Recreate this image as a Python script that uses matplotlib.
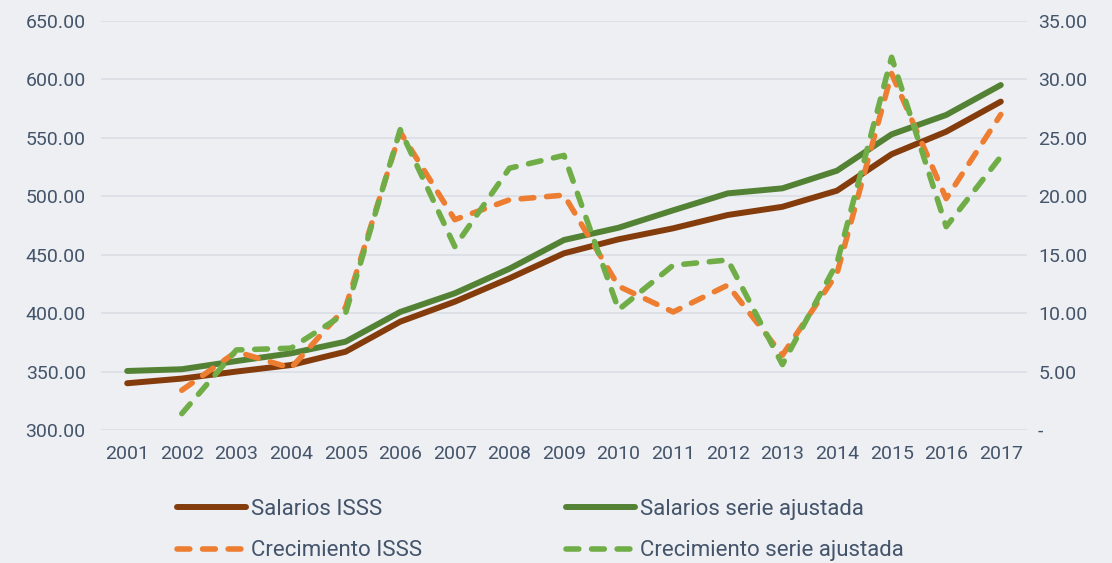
import matplotlib
matplotlib.use("Agg")
import matplotlib.pyplot as plt
from matplotlib.ticker import FixedLocator, FuncFormatter

years = list(range(2001, 2018))
salarios_isss = [340, 344, 350, 355.6, 367, 392.7, 409.8, 429.8, 451.2, 463.2,
                 472.6, 484, 491, 504.8, 536, 555.3, 581]
salarios_ajust = [350.5, 352, 359, 365.6, 375.6, 401, 417, 438, 462.6, 473.1,
                  488, 502.5, 506.8, 521.9, 553, 569.6, 595.2]
crec_years = list(range(2002, 2018))
crec_isss = [3.4, 6.7, 5.3, 10.5, 25.5, 18.0, 19.7, 20.1, 12.3, 10.1,
             12.4, 6.4, 13.4, 30.5, 19.8, 27.0]
crec_ajust = [1.4, 6.85, 7.0, 10.0, 25.7, 15.7, 22.4, 23.5, 10.3, 14.1,
              14.55, 5.6, 14.3, 31.9, 17.4, 23.4]

left_ticks = [300, 350, 400, 450, 500, 550, 600, 650]
right_ticks = [0, 5, 10, 15, 20, 25, 30, 35]

bg = "#EDEFF3"
txt = "#44546A"
c_brown = "#843C0C"
c_green = "#548235"
c_orange = "#ED7D31"
c_lgreen = "#70AD47"

plt.rcParams['font.family'] = ['Roboto', 'DejaVu Sans']

fig = plt.figure(figsize=(11.12, 5.63), dpi=100, facecolor=bg)
ax = fig.add_axes([101/1112, 1 - 430/563, (1027-101)/1112, (430-21)/563])
ax.set_facecolor(bg)
ax2 = ax.twinx()

l1, = ax.plot(years, salarios_isss, color=c_brown, lw=4.3, solid_capstyle='round',
              label="Salarios ISSS", zorder=3)
l2, = ax.plot(years, salarios_ajust, color=c_green, lw=4.3, solid_capstyle='round',
              label="Salarios serie ajustada", zorder=3)
l3, = ax2.plot(crec_years, crec_isss, color=c_orange, lw=4.0, dash_capstyle='round',
               dashes=(2.3, 2.3), label="Crecimiento ISSS")
l4, = ax2.plot(crec_years, crec_ajust, color=c_lgreen, lw=4.0, dash_capstyle='round',
               dashes=(2.3, 2.3), label="Crecimiento serie ajustada")

ax.set_xlim(2000.52, 2017.48)
ax.set_ylim(300, 650)
ax2.set_ylim(0, 35)
ax.yaxis.set_major_locator(FixedLocator(left_ticks))
ax2.yaxis.set_major_locator(FixedLocator(right_ticks))
ax.yaxis.set_major_formatter(FuncFormatter(lambda v, p: f"{v:.2f}"))
ax2.yaxis.set_major_formatter(FuncFormatter(lambda v, p: "-" if v == 0 else f"{v:.2f}"))
ax.set_xticks(years)
ax.set_xticklabels([str(y) for y in years])

ax.grid(axis='y', color="#DCE0E6", lw=1.3, zorder=0)
ax.set_axisbelow(True)
for a in (ax, ax2):
    for s in a.spines.values():
        s.set_visible(False)
    a.tick_params(length=0, colors=txt, labelsize=14)
ax.tick_params(axis='y', pad=11)
ax2.tick_params(axis='y', pad=8)
ax.tick_params(axis='x', pad=11)

leg_kw = dict(loc='upper left', frameon=False, fontsize=16, labelcolor=txt,
              handlelength=3.1, handletextpad=0.25, labelspacing=0.92,
              borderaxespad=0, borderpad=0)
leg1 = fig.legend(handles=[l1, l3], bbox_to_anchor=(177/1112, 1 - 499/563), **leg_kw)
leg2 = fig.legend(handles=[l2, l4], bbox_to_anchor=(566/1112, 1 - 499/563), **leg_kw)

fig.savefig("out.png", dpi=100, facecolor=bg)
